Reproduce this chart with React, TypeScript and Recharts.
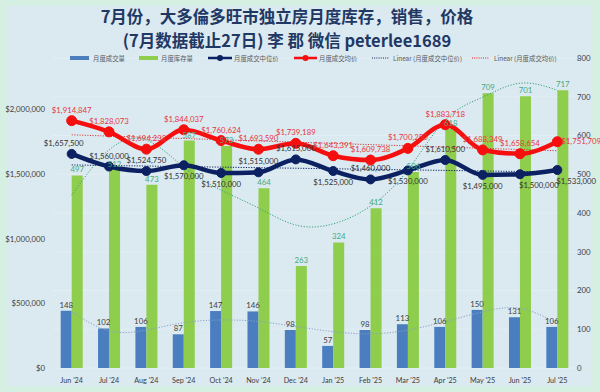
import React from 'react';
import { ComposedChart, Bar, Line, XAxis, YAxis, CartesianGrid, LabelList } from 'recharts';

const months = ["Jun '24", "Jul '24", "Aug '24", "Sep '24", "Oct '24", "Nov '24", "Dec '24", "Jan '25", "Feb '25", "Mar '25", "Apr '25", "May '25", "Jun '25", "Jul '25"];
const sales = [148, 102, 106, 87, 147, 146, 98, 57, 98, 113, 106, 150, 131, 106];
const inventory = [497, 512, 473, 587, 573, 464, 263, 324, 412, 506, 618, 709, 701, 717];
const medianPrice = [1657500, 1560000, 1524750, 1570000, 1510000, 1515000, 1615000, 1525000, 1460000, 1530000, 1610500, 1495000, 1500000, 1533000];
const avgPrice = [1914847, 1828073, 1694232, 1844037, 1760624, 1693590, 1739189, 1643391, 1609738, 1700250, 1883718, 1688349, 1658654, 1751709];
const salesTrend = [145, 96, 98, 117, 124, 120, 107, 94, 88, 98, 120, 145, 154, 115];
const inventoryTrend = [446, 563, 588, 519, 459, 413, 369, 372, 418, 511, 640, 699, 735, 717];
const medianTrend = [1572000, null, null, null, null, null, null, null, null, null, null, null, null, 1517000];
const avgTrend = [1805000, null, null, null, null, null, null, null, null, null, null, null, null, 1682000];
const leftTicks = [0, 500000, 1000000, 1500000, 2000000];
const rightTicks = [0, 100, 200, 300, 400, 500, 600, 700, 800];

const title1 = '7月份，大多倫多旺市独立房月度库存，销售，价格';
const title2 = '(7月数据截止27日) 李 郡  微信 peterlee1689';
const legendNames = ['月度成交量', '月度库存量', '月度成交中位价', '月度成交均价', 'Linear (月度成交中位价)', 'Linear (月度成交均价)'];

const medPlace = ['T', 'T', 'T', 'B', 'B', 'T', 'T', 'B', 'T', 'B', 'T', 'B', 'BR', 'BR'];
const avgPlace = ['T', 'T', 'T', 'T', 'T', 'T', 'T', 'T', 'T', 'T', 'T', 'T', 'T', 'R'];

const data = months.map((m, i) => ({
  month: m,
  sales: sales[i],
  inventory: inventory[i],
  median: medianPrice[i],
  avg: avgPrice[i],
  salesTrend: salesTrend[i],
  inventoryTrend: inventoryTrend[i],
  medianTrend: medianTrend[i],
  avgTrend: avgTrend[i],
}));

const NUM_FONT = 'Lato, "Open Sans", sans-serif';
const CJK_FONT = '"Noto Sans CJK SC", "Noto Sans", sans-serif';
const money = (v: number) => (v === 0 ? '$0' : '$' + v.toLocaleString('en-US'));

const NAVY = '#0b2161';
const RED = '#f50f0f';
const BLUE_BAR = '#4a7ebf';
const GREEN_BAR = '#8fcd4c';

function PriceLabel(props: any, places: string[], color: string) {
  const { x, y, value, index } = props;
  const p = places[index];
  let tx = x;
  let ty = y - 8;
  let anchor = 'middle';
  if (p === 'B') { ty = y + 14; }
  if (p === 'BR') { tx = x - 1; ty = y + 14; anchor = 'start'; }
  if (p === 'R') { tx = x + 4; ty = y + 2; anchor = 'start'; }
  if (index === 0 && places === medPlace) { tx = x - 8; }
  return (
    <text x={tx} y={ty} textAnchor={anchor} fontSize={7.8} fontFamily={NUM_FONT} fill={color}>
      {money(value)}
    </text>
  );
}

function Legend() {
  const y = 58;
  const txt = (x: number, s: string) => (
    <text x={x} y={y + 2.5} fontSize={6.4} fontFamily={CJK_FONT} fill="#595959">{s}</text>
  );
  return (
    <svg width={600} height={80} style={{ position: 'absolute', left: 0, top: 0, pointerEvents: 'none' }}>
      <rect x={70} y={y - 2} width={19} height={4} fill={BLUE_BAR} />
      {txt(93, legendNames[0])}
      <rect x={139} y={y - 2} width={19} height={4} fill={GREEN_BAR} />
      {txt(161, legendNames[1])}
      <line x1={208} x2={232} y1={y} y2={y} stroke={NAVY} strokeWidth={2.5} />
      <circle cx={220} cy={y} r={3} fill={NAVY} />
      {txt(234, legendNames[2])}
      <line x1={294} x2={317} y1={y} y2={y} stroke={RED} strokeWidth={2.5} />
      <circle cx={305.5} cy={y} r={3} fill={RED} />
      {txt(319, legendNames[3])}
      <line x1={372} x2={389} y1={y} y2={y} stroke={NAVY} strokeWidth={1} strokeDasharray="1 1.2" />
      {txt(393, legendNames[4])}
      <line x1={472} x2={489} y1={y} y2={y} stroke={RED} strokeWidth={1} strokeDasharray="1 1.2" />
      {txt(494, legendNames[5])}
    </svg>
  );
}

export default function App() {
  return (
    <div style={{ position: 'absolute', left: 0, top: 0, width: 600, height: 392, background: '#d6efe3', overflow: 'hidden' }}>
      <div style={{ position: 'absolute', left: 8, top: 6, width: 584, height: 380, background: '#dbe9f1' }} />
      <div style={{ position: 'absolute', left: 0, top: 0, width: 600, height: 392 }}>
        <ComposedChart
          width={600}
          height={392}
          data={data}
          margin={{ top: 58, right: 0, bottom: 0, left: 0 }}
          barCategoryGap="20.6%"
          barGap={0}
        >
          <CartesianGrid yAxisId="right" vertical={false} stroke="#e6f0f6" strokeWidth={0.8} />
          <XAxis
            dataKey="month"
            height={24}
            axisLine={false}
            tickLine={false}
            tickMargin={4}
            interval={0}
            tick={{ fontSize: 7.2, fontFamily: NUM_FONT, fill: '#404040' }}
          />
          <YAxis
            yAxisId="left"
            orientation="left"
            width={53}
            domain={[0, 2400000]}
            ticks={leftTicks}
            axisLine={false}
            tickLine={false}
            tickSize={0}
            tickMargin={8}
            tickFormatter={money}
            tick={{ fontSize: 7.8, fontFamily: NUM_FONT, fill: '#404040' }}
          />
          <YAxis
            yAxisId="right"
            orientation="right"
            width={24}
            domain={[0, 800]}
            ticks={rightTicks}
            axisLine={false}
            tickLine={false}
            tickSize={0}
            tickMargin={1}
            tick={{ fontSize: 7.8, fontFamily: NUM_FONT, fill: '#404040' }}
          />
          <Bar yAxisId="right" dataKey="sales" fill={BLUE_BAR} isAnimationActive={false}>
            <LabelList dataKey="sales" position="top" offset={3} style={{ fontSize: 7.8, fontFamily: NUM_FONT, fill: '#404040' }} />
          </Bar>
          <Bar yAxisId="right" dataKey="inventory" fill={GREEN_BAR} isAnimationActive={false}>
            <LabelList dataKey="inventory" position="top" offset={3} style={{ fontSize: 7.8, fontFamily: NUM_FONT, fill: '#45a97e' }} />
          </Bar>
          <Line yAxisId="right" dataKey="salesTrend" type="natural" stroke="#86a3c6" strokeWidth={1} strokeDasharray="1.2 1.6" dot={false} activeDot={false} isAnimationActive={false} />
          <Line yAxisId="right" dataKey="inventoryTrend" type="natural" stroke="#37a27a" strokeWidth={1} strokeDasharray="1.2 1.6" dot={false} activeDot={false} isAnimationActive={false} />
          <Line yAxisId="left" dataKey="medianTrend" type="linear" connectNulls stroke={NAVY} strokeWidth={1} strokeDasharray="1.2 1.4" dot={false} activeDot={false} isAnimationActive={false} />
          <Line yAxisId="left" dataKey="avgTrend" type="linear" connectNulls stroke="#d83a3a" strokeWidth={1} strokeDasharray="1.2 1.4" dot={false} activeDot={false} isAnimationActive={false} />
          <Line
            yAxisId="left"
            dataKey="median"
            type="monotone"
            stroke={NAVY}
            strokeWidth={4.5}
            dot={{ r: 4.5, fill: NAVY, stroke: NAVY, strokeWidth: 1 }}
            activeDot={false}
            isAnimationActive={false}
          >
            <LabelList dataKey="median" content={(p: any) => PriceLabel(p, medPlace, '#333333')} />
          </Line>
          <Line
            yAxisId="left"
            dataKey="avg"
            type="monotone"
            stroke={RED}
            strokeWidth={4.5}
            dot={{ r: 5, fill: RED, stroke: RED, strokeWidth: 1 }}
            activeDot={false}
            isAnimationActive={false}
          >
            <LabelList dataKey="avg" content={(p: any) => PriceLabel(p, avgPlace, '#e8363a')} />
          </Line>
        </ComposedChart>
      </div>
      <div style={{ position: 'absolute', left: 0, top: 4, width: 574, textAlign: 'center', fontFamily: CJK_FONT, fontWeight: 700, fontSize: 16.5, lineHeight: '24px', color: '#1f3864' }}>
        <div>{title1}</div>
        <div>{title2}</div>
      </div>
      <Legend />
    </div>
  );
}
